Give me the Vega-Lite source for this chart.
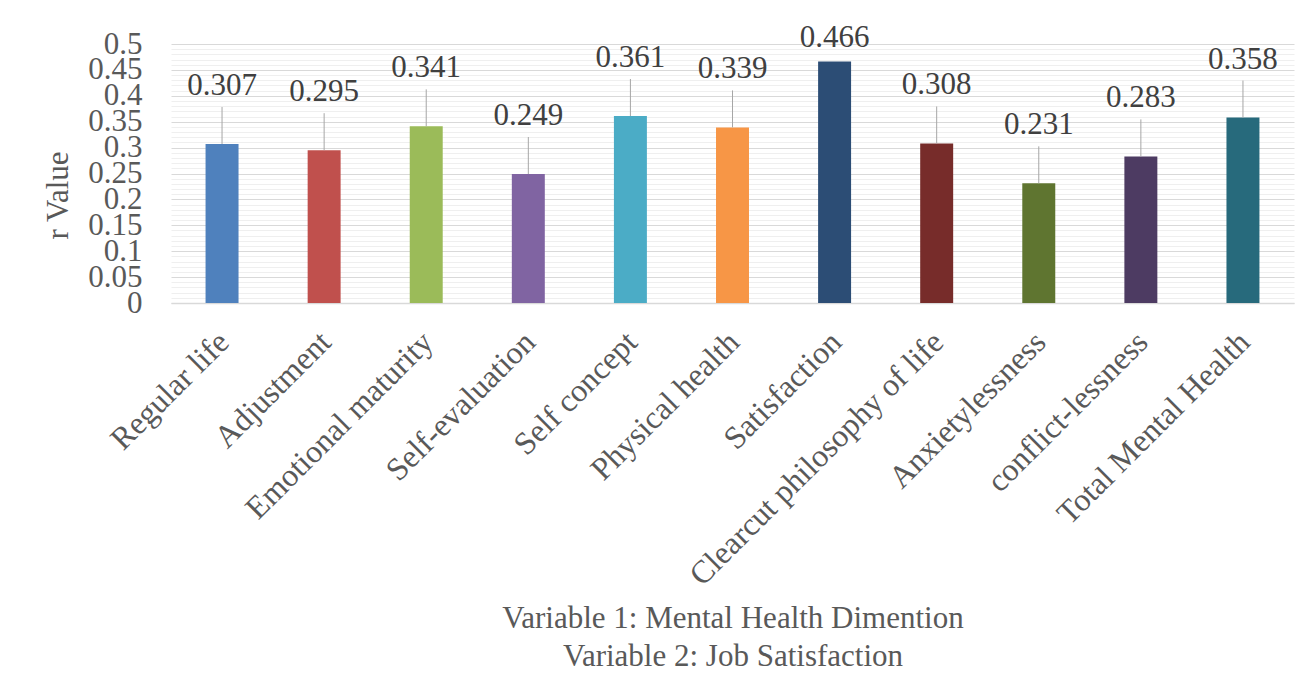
{
  "$schema": "https://vega.github.io/schema/vega-lite/v6.json",
  "width": 1123,
  "height": 259,
  "autosize": {"type": "none"},
  "padding": {"left": 171, "top": 44, "right": 17, "bottom": 394},
  "background": "white",
  "config": {"view": {"stroke": null}, "font": "Liberation Serif"},
  "data": {
    "values": [
      {"category": "Regular life", "value": 0.307},
      {"category": "Adjustment", "value": 0.295},
      {"category": "Emotional maturity", "value": 0.341},
      {"category": "Self-evaluation", "value": 0.249},
      {"category": "Self concept", "value": 0.361},
      {"category": "Physical health", "value": 0.339},
      {"category": "Satisfaction", "value": 0.466},
      {"category": "Clearcut philosophy of life", "value": 0.308},
      {"category": "Anxietylessness", "value": 0.231},
      {"category": "conflict-lessness", "value": 0.283},
      {"category": "Total Mental Health", "value": 0.358}
    ]
  },
  "encoding": {
    "x": {
      "field": "category",
      "type": "nominal",
      "sort": null,
      "scale": {"paddingInner": 0.677, "paddingOuter": 0.3385},
      "axis": {
        "labelAngle": -45,
        "labelAlign": "right",
        "labelBaseline": "top",
        "labelPadding": 23,
        "labelOffset": -9,
        "labelFontSize": 32,
        "labelColor": "#595959",
        "labelLimit": 0,
        "labelOverlap": false,
        "ticks": false,
        "domainColor": "#D9D9D9",
        "domainWidth": 1.5,
        "title": ["Variable 1: Mental Health Dimention", "Variable 2: Job Satisfaction"],
        "titleFontSize": 31,
        "titleFontWeight": "normal",
        "titleColor": "#595959",
        "titleBaseline": "top",
        "titleY": 300,
        "titleLineHeight": 38
      }
    },
    "y": {
      "field": "value",
      "type": "quantitative",
      "scale": {"domain": [0, 0.5], "nice": false},
      "axis": {
        "tickCount": 50,
        "domain": false,
        "ticks": false,
        "labelOverlap": false,
        "labelPadding": 29,
        "labelFontSize": 31,
        "labelColor": "#595959",
        "labelExpr": "abs(datum.value*20 - round(datum.value*20)) < 0.001 ? format(datum.value, '~g') : ''",
        "gridColor": {
          "condition": {"test": "abs(datum.value*20 - round(datum.value*20)) < 0.001", "value": "#D9D9D9"},
          "value": "#EFEFEF"
        },
        "gridWidth": 1,
        "title": "r Value",
        "titleFontSize": 31,
        "titleFontWeight": "normal",
        "titleColor": "#595959",
        "titleX": -113,
        "titleY": 151,
        "titleAlign": "center",
        "titleBaseline": "middle"
      }
    }
  },
  "layer": [
    {
      "mark": {"type": "bar"},
      "encoding": {
        "color": {
          "field": "category",
          "type": "nominal",
          "sort": null,
          "legend": null,
          "scale": {
            "domain": ["Regular life", "Adjustment", "Emotional maturity", "Self-evaluation", "Self concept", "Physical health", "Satisfaction", "Clearcut philosophy of life", "Anxietylessness", "conflict-lessness", "Total Mental Health"],
            "range": ["#4F81BD", "#C0504D", "#9BBB59", "#8064A2", "#4BACC6", "#F79646", "#2C4D75", "#772C2A", "#5F7530", "#4D3B62", "#276A7C"]
          }
        }
      }
    },
    {
      "transform": [{"filter": "datum.category !== 'Satisfaction'"}],
      "mark": {"type": "rule", "color": "#A6A6A6", "strokeWidth": 1, "y2Offset": -37},
      "encoding": {"y2": {"field": "value"}}
    },
    {
      "transform": [{"filter": "datum.category !== 'Satisfaction'"}],
      "mark": {"type": "text", "dy": -58, "baseline": "middle", "fontSize": 31, "color": "#404040"},
      "encoding": {"text": {"field": "value", "type": "quantitative", "format": ".3f"}}
    },
    {
      "transform": [{"filter": "datum.category === 'Satisfaction'"}],
      "mark": {"type": "text", "dy": -24, "baseline": "middle", "fontSize": 31, "color": "#404040"},
      "encoding": {"text": {"field": "value", "type": "quantitative", "format": ".3f"}}
    }
  ]
}
